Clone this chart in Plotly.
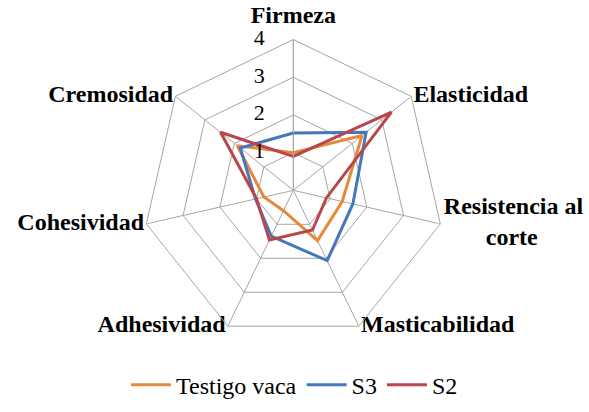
import plotly.graph_objects as go

# Texture attributes (clockwise from the top)
attributes = ["Firmeza", "Elasticidad", "Resistencia al corte", "Masticabilidad",
              "Adhesividad", "Cohesividad", "Cremosidad"]
NB = "\u00a0"
attribute_labels = ["Firmeza", "Elasticidad", "Resistencia al<br>" + NB * 7 + "corte",
                    "Masticabilidad", "Adhesividad", "Cohesividad", "Cremosidad"]
label_positions = ["top center", "middle right", "middle right", "middle right",
                   "middle left", "middle left", "middle left"]
# invisible marker sizes set the gap between each name and its vertex
label_gaps = [16, 2, 4, 2, 2, 2, 2]

# Sensory scores per sample
testigo_vaca = [1.0, 2.33, 1.33, 1.48, 0.6, 0.8, 1.9]
s3 = [1.52, 2.47, 1.62, 2.07, 1.35, 1.03, 1.8]
s2 = [0.9, 3.33, 0.9, 1.17, 1.46, 1.0, 2.47]

radial_ticks = [0, 1, 2, 3, 4]

series = [
    ("Testigo vaca", testigo_vaca, "#E8883A"),
    ("S3", s3, "#4677BB"),
    ("S2", s2, "#B8464A"),
]

grid = "#A6A6A6"
serif = "Liberation Serif"
r_max = radial_ticks[-1]
# a hair below zero so the centre value still counts as inside the grid
r_min = radial_ticks[0] - 1e-6

fig = go.Figure()
for name, vals, color in series:
    fig.add_trace(go.Scatterpolar(
        r=vals + vals[:1],
        theta=attributes + attributes[:1],
        mode="lines",
        name=name,
        line=dict(color=color, width=3),
    ))

# Scale values written to the left of the first spoke
fig.add_trace(go.Scatterpolar(
    r=radial_ticks,
    theta=[attributes[0]] * len(radial_ticks),
    mode="markers+text",
    marker=dict(size=44, color="rgba(0,0,0,0)"),
    text=[str(t) for t in radial_ticks],
    textposition="middle left",
    textfont=dict(family=serif, size=22, color="black"),
    cliponaxis=False,
    showlegend=False,
    hoverinfo="skip",
))

# Attribute names at the outer vertices
fig.add_trace(go.Scatterpolar(
    r=[r_max] * len(attributes),
    theta=attributes,
    mode="markers+text",
    marker=dict(size=label_gaps, color="rgba(0,0,0,0)"),
    text=attribute_labels,
    textposition=label_positions,
    textfont=dict(family=serif, size=24, color="black", weight="bold"),
    cliponaxis=False,
    showlegend=False,
    hoverinfo="skip",
))

fig.update_layout(
    width=589, height=412,
    margin=dict(l=0, r=0, t=0, b=0),
    paper_bgcolor="white",
    plot_bgcolor="white",
    font=dict(family=serif, color="black"),
    polar=dict(
        domain=dict(x=[0.242, 0.754], y=[0.172, 0.904]),
        bgcolor="white",
        gridshape="linear",
        angularaxis=dict(
            type="category",
            categoryarray=attributes,
            rotation=90,
            direction="clockwise",
            showticklabels=False,
            showline=True, linecolor=grid, linewidth=1,
            showgrid=True, gridcolor=grid, gridwidth=1,
            ticks="",
        ),
        radialaxis=dict(
            range=[r_min, r_max],
            tickmode="array",
            tickvals=radial_ticks,
            angle=90,
            showticklabels=False,
            showline=True, linecolor=grid, linewidth=1,
            showgrid=True, gridcolor=grid, gridwidth=1,
            ticks="",
        ),
    ),
    legend=dict(
        orientation="h",
        x=0.5, xanchor="center",
        y=0.065, yanchor="middle",
        font=dict(family=serif, size=24, color="black"),
        itemwidth=40,
        tracegroupgap=0,
    ),
)

fig.write_html("out.html")
